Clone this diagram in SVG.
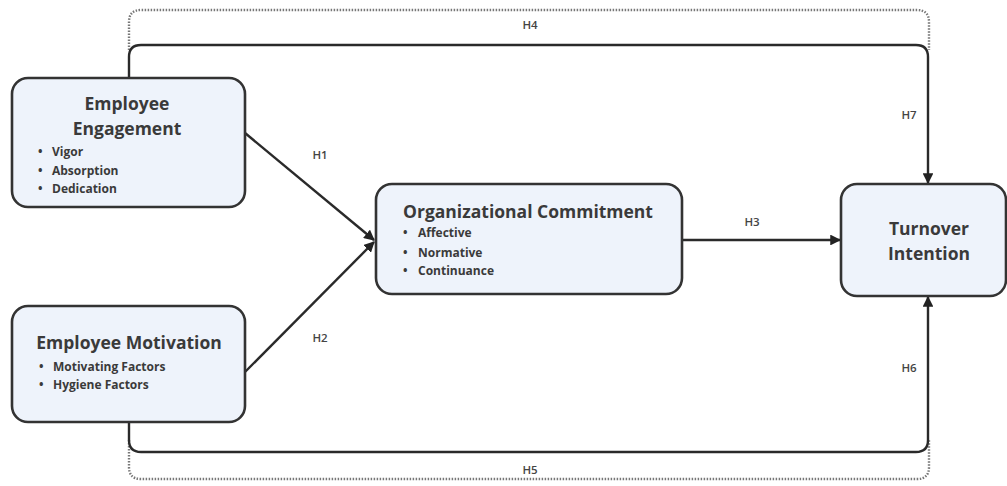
<svg xmlns="http://www.w3.org/2000/svg" width="1007" height="486" viewBox="0 0 1007 486">
<defs>
<marker id="arr" viewBox="0 0 10 10" refX="9" refY="5" markerWidth="4.5" markerHeight="4.5" orient="auto-start-reverse">
<path d="M0,0 L10,5 L0,10 z" fill="#222"/>
</marker>
<style>
.box{fill:#eef3fb;stroke:#333;stroke-width:2.6}
.title{font-family:"Open Sans","Liberation Sans",sans-serif;font-weight:700;font-size:17.5px;fill:#3a3a3a}
.item{font-family:"Open Sans","Liberation Sans",sans-serif;font-weight:700;font-size:12px;fill:#3a3a3a}
.lbl{font-family:"Open Sans","Liberation Sans",sans-serif;font-weight:600;font-size:11.5px;fill:#444}
.conn{fill:none;stroke:#2a2a2a;stroke-width:2.4}
.dot{fill:none;stroke:#777;stroke-width:2.4;stroke-dasharray:1.5 1.5}
</style>
</defs>
<rect width="1007" height="486" fill="#fff"/>
<g id="connectors">
<path class="dot" d="M129,50 V22 Q129,10 141,10 H917 Q929,10 929,22 V50"/>
<path class="dot" d="M129,440 V467 Q129,479 141,479 H917 Q929,479 929,467 V440"/>
<path class="conn" d="M129,78 V57 Q129,45 141,45 H916 Q928,45 928,57 V183" marker-end="url(#arr)"/>
<path class="conn" d="M129,423 V440 Q129,452 141,452 H916 Q928,452 928,440 V297" marker-end="url(#arr)"/>
<path class="conn" d="M245,133 L374,240" marker-end="url(#arr)"/>
<path class="conn" d="M245,372 L374,242" marker-end="url(#arr)"/>
<path class="conn" d="M683,240 H840" marker-end="url(#arr)"/>
<text class="lbl" x="530" y="29" text-anchor="middle">H4</text>
<text class="lbl" x="320" y="159" text-anchor="middle">H1</text>
<text class="lbl" x="320" y="342" text-anchor="middle">H2</text>
<text class="lbl" x="752" y="226" text-anchor="middle">H3</text>
<text class="lbl" x="909" y="119" text-anchor="middle">H7</text>
<text class="lbl" x="909" y="372" text-anchor="middle">H6</text>
<text class="lbl" x="530" y="474" text-anchor="middle">H5</text>
</g>
<g id="employee-engagement">
<rect class="box" x="12" y="78" width="233" height="129" rx="16"/>
<text class="title" x="127" y="110" text-anchor="middle">Employee</text>
<text class="title" x="127" y="135" text-anchor="middle">Engagement</text>
<text class="item" x="38" y="156">•</text><text class="item" x="52" y="156">Vigor</text>
<text class="item" x="38" y="175">•</text><text class="item" x="52" y="175">Absorption</text>
<text class="item" x="38" y="193">•</text><text class="item" x="52" y="193">Dedication</text>
</g>
<g id="employee-motivation">
<rect class="box" x="12" y="306" width="233" height="116" rx="16"/>
<text class="title" x="129" y="349" text-anchor="middle">Employee Motivation</text>
<text class="item" x="39" y="371">•</text><text class="item" x="53" y="371">Motivating Factors</text>
<text class="item" x="39" y="389">•</text><text class="item" x="53" y="389">Hygiene Factors</text>
</g>
<g id="organizational-commitment">
<rect class="box" x="376" y="184" width="306" height="110" rx="16"/>
<text class="title" x="528" y="218" text-anchor="middle">Organizational Commitment</text>
<text class="item" x="403" y="237">•</text><text class="item" x="418" y="237">Affective</text>
<text class="item" x="403" y="257">•</text><text class="item" x="418" y="257">Normative</text>
<text class="item" x="403" y="275">•</text><text class="item" x="418" y="275">Continuance</text>
</g>
<g id="turnover-intention">
<rect class="box" x="841" y="184" width="165" height="112" rx="16"/>
<text class="title" x="929" y="235" text-anchor="middle">Turnover</text>
<text class="title" x="929" y="260" text-anchor="middle">Intention</text>
</g>
</svg>
